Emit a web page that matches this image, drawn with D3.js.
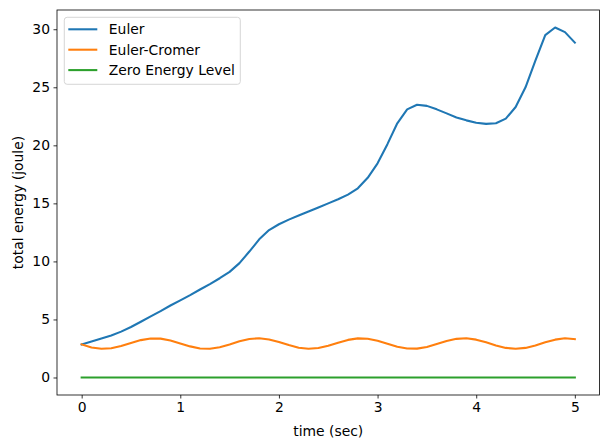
<!DOCTYPE html>
<html>
<head>
<meta charset="utf-8">
<script src="https://cdn.jsdelivr.net/npm/d3@7"></script>
<style>
    body { margin: 0; background: #fff; }
    svg { font-family: "DejaVu Sans", sans-serif; }
</style>
</head>
<body>
<svg id="chart" width="609" height="448"></svg>
<script>
// time samples, dt = 0.1 s
var times = d3.range(0, 51).map(function (i) { return +(i * 0.1).toFixed(1); });

var eulerEnergy = [2.85, 3.1, 3.35, 3.62, 3.95, 4.35, 4.8, 5.27, 5.72, 6.2,
    6.65, 7.1, 7.58, 8.05, 8.55, 9.1, 9.85, 10.85, 11.9, 12.7,
    13.2, 13.6, 13.95, 14.3, 14.65, 15.0, 15.35, 15.75, 16.3, 17.2,
    18.45, 20.1, 21.9, 23.1, 23.5, 23.4, 23.1, 22.75, 22.4, 22.15,
    21.95, 21.85, 21.9, 22.3, 23.3, 25.0, 27.3, 29.5, 30.15, 29.75, 28.85];

var cromerEnergy = [2.85, 2.58, 2.47, 2.52, 2.71, 2.98, 3.22, 3.365, 3.35, 3.19,
    2.935, 2.68, 2.505, 2.48, 2.61, 2.85, 3.12, 3.32, 3.38, 3.28,
    3.06, 2.79, 2.565, 2.47, 2.535, 2.735, 3.0, 3.24, 3.37, 3.34,
    3.17, 2.91, 2.65, 2.495, 2.485, 2.63, 2.88, 3.145, 3.33, 3.375,
    3.26, 3.03, 2.76, 2.55, 2.47, 2.55, 2.76, 3.03, 3.26, 3.375, 3.3];

var zeroLevel = [0, 0];
var zeroTimes = [0, 5];

var xTicks = [0, 1, 2, 3, 4, 5];
var yTicks = [0, 5, 10, 15, 20, 25, 30];

var seriesNames = ["Euler", "Euler-Cromer", "Zero Energy Level"];
var seriesColors = ["#1f77b4", "#ff7f0e", "#2ca02c"];

var margin = {left: 57, top: 10, right: 9.5, bottom: 53};
var svg = d3.select("#chart");
var width = 609 - margin.left - margin.right;
var height = 448 - margin.top - margin.bottom;

var g = svg.append("g")
    .attr("transform", "translate(" + margin.left + "," + margin.top + ")");

var x = d3.scaleLinear().domain([-0.25, 5.25]).range([0, width]);
var y = d3.scaleLinear().domain([-1.508, 31.658]).range([height, 0]);

// axes
var xAxis = g.append("g")
    .attr("transform", "translate(0," + height + ")")
    .call(d3.axisBottom(x).tickValues(xTicks).tickSize(3.5).tickPadding(3.5).tickFormat(d3.format("d")));
var yAxis = g.append("g")
    .call(d3.axisLeft(y).tickValues(yTicks).tickSize(3.5).tickPadding(3.5).tickFormat(d3.format("d")));

[xAxis, yAxis].forEach(function (ax) {
    ax.select(".domain").remove();
    ax.selectAll(".tick line").attr("stroke", "#000").attr("stroke-width", 0.8);
    ax.selectAll(".tick text")
        .attr("fill", "#000")
        .style("font-size", "13.9px")
        .style("font-family", "DejaVu Sans");
});

// lines
var line = d3.line()
    .x(function (d) { return x(d[0]); })
    .y(function (d) { return y(d[1]); });

var seriesData = [
    d3.zip(times, eulerEnergy),
    d3.zip(times, cromerEnergy),
    d3.zip(zeroTimes, zeroLevel)
];

g.append("g")
    .selectAll("path")
    .data(seriesData)
    .enter().append("path")
    .attr("d", line)
    .attr("fill", "none")
    .attr("stroke", function (d, i) { return seriesColors[i]; })
    .attr("stroke-width", 2.08)
    .attr("stroke-linejoin", "round")
    .attr("stroke-linecap", "square");

// frame
g.append("rect")
    .attr("width", width)
    .attr("height", height)
    .attr("fill", "none")
    .attr("stroke", "#000")
    .attr("stroke-width", 0.8);

// axis labels
svg.append("text")
    .attr("x", margin.left + width / 2)
    .attr("y", 436)
    .attr("text-anchor", "middle")
    .style("font-size", "13.9px")
    .text("time (sec)");

svg.append("text")
    .attr("transform", "translate(23," + (margin.top + height / 2) + ") rotate(-90)")
    .attr("text-anchor", "middle")
    .style("font-size", "13.9px")
    .text("total energy (joule)");

// legend
var legend = g.append("g").attr("transform", "translate(7.3,7.3)");
legend.append("rect")
    .attr("width", 176)
    .attr("height", 67)
    .attr("rx", 2.8)
    .attr("fill", "#fff")
    .attr("fill-opacity", 0.8)
    .attr("stroke", "#cccccc")
    .attr("stroke-width", 0.8);

var item = legend.selectAll("g.item")
    .data(seriesNames)
    .enter().append("g")
    .attr("class", "item")
    .attr("transform", function (d, i) { return "translate(0," + (12 + i * 20.4) + ")"; });

item.append("line")
    .attr("x1", 4)
    .attr("x2", 33)
    .attr("stroke", function (d, i) { return seriesColors[i]; })
    .attr("stroke-width", 2.08);

item.append("text")
    .attr("x", 44.5)
    .attr("dy", "0.35em")
    .style("font-size", "13.9px")
    .text(function (d) { return d; });
</script>
</body>
</html>
